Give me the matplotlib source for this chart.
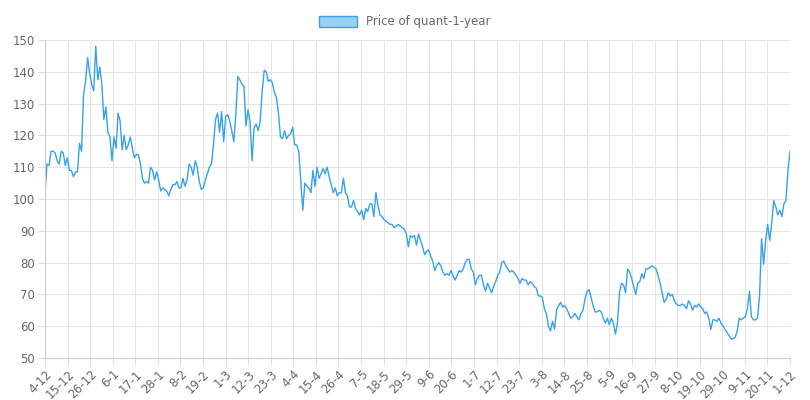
import matplotlib
matplotlib.use("Agg")
import matplotlib.pyplot as plt
from matplotlib.patches import Patch

seg1 = [102,111,110.5,115,115,114.5,112,111,115,114.5, 110.5,113,109,109,107,108.5,108.5,117.5,115,133,
        137,144.5,139.5,136,134,148,137.5,141.5,136,125, 129,121,119.5,112,119.5,116,127,124.5,115.5,120,
        115.5,117,119.5,116,113,114,114,111,106.5,105, 105.5,105,110,109,106,108.5,106,102.5,103.5,103,
        102.5,101,103,104.5,104.5,105.5,103.5,103.5,106.5,104, 106,111,110,107.5,112,110,105.5,103,103.5,106,
        108,110,111,117,125,127,121,127.5,118,126, 126.5,124.5,121.5,118,126.5,138.5,137.5,136,135.5,123,
        128,124.5,112,122.5,123.5,121.5,124.5,134,140.5,140, 137,137.5,136.5,133.5,132,127,119.5]
seg2 = [119,121.5,119,120,120.5,122.5,117,117,115,105.5, 96.5,105,104,103.5,102,109,104,110,106.5,108,
        109.5,108,110,107,104.5,102,103.5,101,102,102, 106.5,102,101,97.5,97.5,99.5,97,96,95,96.5,
        93.5,97,96,98.5,98.5,94.5,102,98,95,94.5, 93.5,93,92.5,92,92,91,91.5,92,91.5,91,
        90.5,89,85,88.5,88,88.5,85.5,89,87,85,82.5,83.5,84,82, 80.5,77.5,79,80,79,77,76,76.5,76,77.5,76,74.5,
        76,77.5,77,78,80,81,81,78,77,73,75,76,76,73,71, 73.5,72,70.5,72.5,74,76,77,80,80.5,79,78,77,
        77.5,77,76,75,73.5,75,74.5,74.5,73,74,73.5,72.5]
seg3 = [72,69.5,69.5,69,65.5,64,60,58.5,61.5,59, 65,66.5,67.5,66,66.5,65.5,64,62.5,63,64,
        63,62,64,65,68.5,71,71.5,69,66.5,64.5, 64.5,65,64.5,62.5,61,62.5,60.5,62.5,61,57.5,
        61,70.5,73.5,73,70.5,78,77,75,72.5,70, 73.5,74,76.5,75,78,78,78.5,79,78.5,78,76,
        73.5,70.5,67.5,68.5,70.5,69.5,70,68,67,66.5, 66.5,67,66.5,65.5,68,67,65,66.5,66,67,66,
        65.5,64,64.5,62.5,59,62,62,61.5,62.5,61,60, 59,58,57,56,56,56.5,58.5,62.5,62,62.5,63,65.5,
        71,63,62,62,62.5,69.5,87.5,79.5,87,92,87, 92.5,99.5,97.5,95,96.5,94.5,98.5,99.5,109,115]
values = seg1 + seg2 + seg3

tick_labels = ["4-12","15-12","26-12","6-1","17-1","28-1","8-2","19-2","1-3","12-3","23-3","4-4",
               "15-4","26-4","7-5","18-5","29-5","9-6","20-6","1-7","12-7","23-7","3-8","14-8",
               "25-8","5-9","16-9","27-9","8-10","19-10","29-10","9-11","20-11","1-12"]

n = len(values)
step = (n - 1) / (len(tick_labels) - 1)
tick_pos = [i * step for i in range(len(tick_labels))]

fig = plt.figure(figsize=(8.1, 4.0), dpi=100)
ax = fig.add_axes([45/810, 1-358/400, 745/810, 318/400])
ax.plot(range(n), values, color="#36a2eb", lw=1.0)
ax.set_xlim(0, n - 1)
ax.set_ylim(50, 150)
ax.set_yticks(range(50, 151, 10))
ax.set_xticks(tick_pos)
ax.set_xticklabels(tick_labels, rotation=45, ha="right", rotation_mode="anchor")
ax.tick_params(colors="#666666", labelsize=8.5, length=5, width=0.8, pad=2)
for t in ax.get_xticklabels() + ax.get_yticklabels():
    t.set_color("#666666")
ax.tick_params(axis="both", color="#dddddd")
ax.grid(True, color="#e5e5e5", lw=0.8)
for s in ["top", "right"]:
    ax.spines[s].set_visible(False)
for s in ["left", "bottom"]:
    ax.spines[s].set_color("#cccccc")
leg = fig.legend(handles=[Patch(facecolor=(54/255,162/255,235/255,0.5), edgecolor="#36a2eb",
                                label="Price of quant-1-year")],
                 loc="center", bbox_to_anchor=(0.5, 1-22/400), frameon=False,
                 fontsize=8.5, handlelength=3.2, handleheight=1.0)
for t in leg.get_texts():
    t.set_color("#666666")
fig.savefig("out.png", dpi=100)
